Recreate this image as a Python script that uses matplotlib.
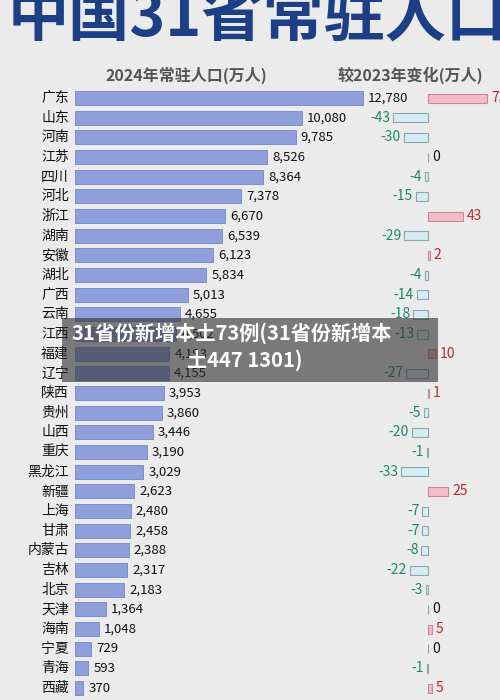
import matplotlib
matplotlib.use("Agg")
import matplotlib.pyplot as plt

plt.rcParams['font.family'] = ['Noto Sans CJK SC', 'DejaVu Sans']

provinces = ["广东","山东","河南","江苏","四川","河北","浙江","湖南","安徽","湖北","广西","云南","江西","福建","辽宁",
             "陕西","贵州","山西","重庆","黑龙江","新疆","上海","甘肃","内蒙古","吉林","北京","天津","海南","宁夏","青海","西藏"]
population = [12780,10080,9785,8526,8364,7378,6670,6539,6123,5834,5013,4655,4502,4193,4155,
              3953,3860,3446,3190,3029,2623,2480,2458,2388,2317,2183,1364,1048,729,593,370]
change = [73,-43,-30,0,-4,-15,43,-29,2,-4,-14,-18,-13,10,-27,
          1,-5,-20,-1,-33,25,-7,-7,-8,-22,-3,0,5,0,-1,5]

W, H = 500, 700
fig = plt.figure(figsize=(5, 7), dpi=100)
fig.patch.set_facecolor('#ebebeb')

y0, dy = 98, 19.67
ys = [y0 + dy * i for i in range(len(provinces))]

ax = fig.add_axes([75 / W, 0, 1 - 75 / W, 1])
ax.set_facecolor('none')
scale = 288 / 12780
ax.set_xlim(0, (W - 75) / scale)
ax.set_ylim(H, 0)
ax.axis('off')
ax.barh(ys, population, height=14, color='#8e9fdb', edgecolor='#7486c8', linewidth=0.6)
for y, v, p in zip(ys, population, provinces):
    ax.text(v + 5 / scale, y, f"{v:,}", va='center', ha='left', fontsize=9.5, style='italic', color='#111')
    ax.text(-6 / scale, y, p, va='center', ha='right', fontsize=10, color='#111', clip_on=False)

ax2 = fig.add_axes([0, 0, 1, 1])
ax2.set_facecolor('none')
cs = 35 / 43
ax2.set_xlim(-428 / cs, (W - 428) / cs)
ax2.set_ylim(H, 0)
ax2.axis('off')
cols = ['#f2bcc8' if c > 0 else '#d3ebf3' for c in change]
ecs = ['#c98a96' if c > 0 else '#8fa6ad' for c in change]
ax2.barh(ys, change, height=9, color=cols, edgecolor=ecs, linewidth=0.8)
for y, c in zip(ys, change):
    if c > 0:
        ax2.text(c + 4 / cs, y, f"{c}", va='center', ha='left', fontsize=10, style='italic', color='#c0282f')
    elif c < 0:
        ax2.text(c - 3 / cs, y, f"{c}", va='center', ha='right', fontsize=10, style='italic', color='#1b8a6c')
    else:
        ax2.text(4 / cs, y, "0", va='center', ha='left', fontsize=10, style='italic', color='#111')

fig.text(8 / W, 1 - 18 / H, "中国31省常驻人口", fontsize=44, fontweight='bold', color='#1d3f86', va='center', ha='left')
fig.text(105 / W, 1 - 75 / H, "2024年常驻人口(万人)", fontsize=11.5, fontweight='bold', color='#555', va='center')
fig.text(338 / W, 1 - 75 / H, "较2023年变化(万人)", fontsize=11.5, fontweight='bold', color='#555', va='center')

fig.patches.append(plt.Rectangle((62 / W, 1 - 382 / H), 376 / W, 64 / H, transform=fig.transFigure,
                                 facecolor='#333', alpha=0.62, edgecolor='none'))
fig.text(72 / W, 1 - 333 / H, "31省份新增本土73例(31省份新增本", fontsize=14.5, fontweight='bold', color='white', va='center')
fig.text(245 / W, 1 - 360 / H, "土447 1301)", fontsize=14.5, fontweight='bold', color='white', va='center', ha='center')

fig.savefig("out.png", dpi=100, facecolor=fig.get_facecolor())
